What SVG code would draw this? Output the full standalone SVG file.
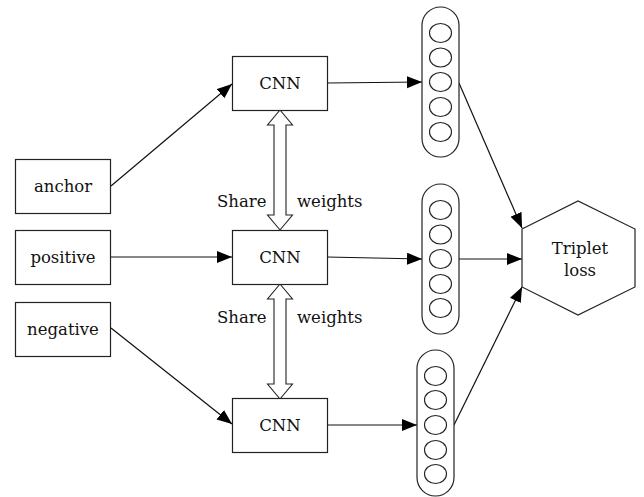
<svg xmlns="http://www.w3.org/2000/svg" width="644" height="497" viewBox="0 0 644 497">
<style>
.box{fill:#fff;stroke:#222;stroke-width:1.2}
.c{fill:#fff;stroke:#222;stroke-width:1.1}
.ln{fill:none;stroke:#111;stroke-width:1.2}
.dbl{fill:#fff;stroke:#222;stroke-width:1.1}
</style>
<defs>
<marker id="ah" markerUnits="userSpaceOnUse" markerWidth="16" markerHeight="14" refX="15" refY="6" orient="auto">
<path d="M0,0 L15,6 L0,12 z" fill="#000"/>
</marker>
</defs>
<rect width="644" height="497" fill="#fff"/>
<g id="connectors">
<line class="ln" x1="111" y1="186" x2="232" y2="84" marker-end="url(#ah)"/>
<line class="ln" x1="110" y1="257" x2="232" y2="257" marker-end="url(#ah)"/>
<line class="ln" x1="111" y1="328" x2="232" y2="424" marker-end="url(#ah)"/>
<line class="ln" x1="327" y1="83" x2="422" y2="82" marker-end="url(#ah)"/>
<line class="ln" x1="327" y1="257" x2="422" y2="259" marker-end="url(#ah)"/>
<line class="ln" x1="327" y1="425" x2="417" y2="425" marker-end="url(#ah)"/>
<line class="ln" x1="459" y1="83" x2="522" y2="228" marker-end="url(#ah)"/>
<line class="ln" x1="459" y1="259" x2="522" y2="259" marker-end="url(#ah)"/>
<line class="ln" x1="454" y1="425" x2="522" y2="287" marker-end="url(#ah)"/>
<polygon id="share1" class="dbl" points="280,110 292.5,125 286,125 286,215 292.5,215 280,230 267.5,215 274,215 274,125 267.5,125"/>
<polygon id="share2" class="dbl" points="280,284 292.5,299 286,299 286,384 292.5,384 280,399 267.5,384 274,384 274,299 267.5,299"/>
</g>
<g font-family="'DejaVu Serif', serif" font-size="16.5" fill="#111">
<g id="labels">
<text x="217" y="207">Share</text>
<text x="297" y="207">weights</text>
<text x="217" y="323">Share</text>
<text x="297" y="323">weights</text>
</g>
<g text-anchor="middle">
<g id="anchor"><rect class="box" x="15.5" y="159.5" width="95" height="54"/><text x="63" y="192">anchor</text></g>
<g id="positive"><rect class="box" x="15.5" y="230.5" width="95" height="54"/><text x="63" y="263">positive</text></g>
<g id="negative"><rect class="box" x="15.5" y="302.5" width="95" height="54"/><text x="63" y="335">negative</text></g>
<g id="cnn1"><rect class="box" x="232.5" y="56.5" width="95" height="54"/><text x="280" y="89">CNN</text></g>
<g id="cnn2"><rect class="box" x="232.5" y="230.5" width="95" height="54"/><text x="280" y="263">CNN</text></g>
<g id="cnn3"><rect class="box" x="232.5" y="398.5" width="95" height="54"/><text x="280" y="431">CNN</text></g>
<g id="triplet">
<polygon class="box" points="522,229 578,201 635,229 635,287 578,315 522,287"/>
<text x="580" y="254">Triplet</text>
<text x="580" y="276">loss</text>
</g>
</g>
</g>
<g id="vec1">
<rect class="box" x="422" y="7" width="37" height="150" rx="18.5"/>
<ellipse class="c" cx="440.5" cy="33" rx="11" ry="9.5"/>
<ellipse class="c" cx="440.5" cy="57.5" rx="11" ry="9.5"/>
<ellipse class="c" cx="440.5" cy="82" rx="11" ry="9.5"/>
<ellipse class="c" cx="440.5" cy="107" rx="11" ry="9.5"/>
<ellipse class="c" cx="440.5" cy="132" rx="11" ry="9.5"/>
</g>
<g id="vec2">
<rect class="box" x="422" y="184" width="37" height="150" rx="18.5"/>
<ellipse class="c" cx="440.5" cy="210" rx="11" ry="9.5"/>
<ellipse class="c" cx="440.5" cy="234.5" rx="11" ry="9.5"/>
<ellipse class="c" cx="440.5" cy="259" rx="11" ry="9.5"/>
<ellipse class="c" cx="440.5" cy="284" rx="11" ry="9.5"/>
<ellipse class="c" cx="440.5" cy="308" rx="11" ry="9.5"/>
</g>
<g id="vec3">
<rect class="box" x="417" y="350" width="37" height="146" rx="18.5"/>
<ellipse class="c" cx="435.5" cy="376" rx="11" ry="9.5"/>
<ellipse class="c" cx="435.5" cy="400" rx="11" ry="9.5"/>
<ellipse class="c" cx="435.5" cy="425" rx="11" ry="9.5"/>
<ellipse class="c" cx="435.5" cy="450" rx="11" ry="9.5"/>
<ellipse class="c" cx="435.5" cy="474" rx="11" ry="9.5"/>
</g>
</svg>
